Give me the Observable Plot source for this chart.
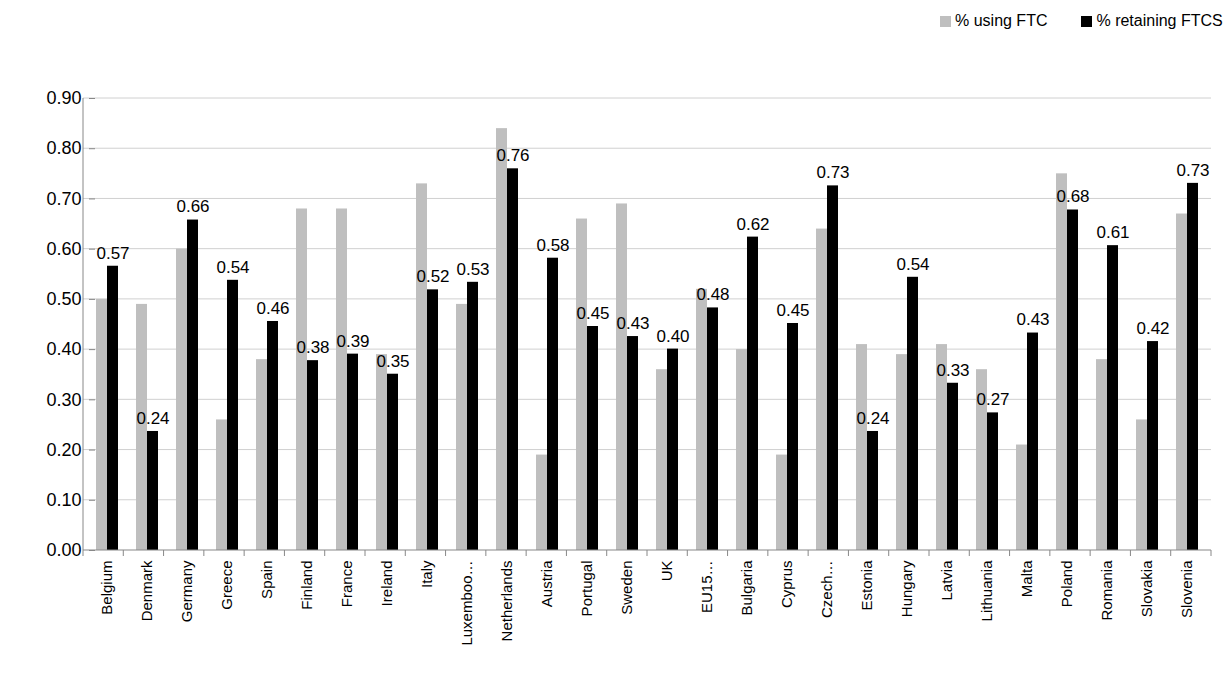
<!DOCTYPE html>
<html><head><meta charset="utf-8">
<script src="https://cdn.jsdelivr.net/npm/d3@7"></script>
<script src="https://cdn.jsdelivr.net/npm/@observablehq/plot@0.6"></script>
<style>
body{margin:0;background:#fff;font-family:"Liberation Sans",Arial,sans-serif;}
#wrap{position:relative;width:1229px;height:686px;}
#legend{position:absolute;top:12px;left:940px;font-size:16px;display:flex;gap:34px;}
#legend span{display:inline-flex;align-items:center;gap:4px;}
#legend i{display:inline-block;width:11px;height:11px;}
</style></head><body>
<div id="wrap">
<div id="legend"><span><i style="background:#bfbfbf"></i>% using FTC</span><span><i style="background:#000"></i>% retaining FTCS</span></div>
<div id="chart"></div>
</div>
<script>
const countries=["Belgium","Denmark","Germany","Greece","Spain","Finland","France","Ireland","Italy","Luxemboo…","Netherlands","Austria","Portugal","Sweden","UK","EU15…","Bulgaria","Cyprus","Czech…","Estonia","Hungary","Latvia","Lithuania","Malta","Poland","Romania","Slovakia","Slovenia"];
const usingFTC=[0.50,0.49,0.60,0.26,0.38,0.68,0.68,0.39,0.73,0.49,0.84,0.19,0.66,0.69,0.36,0.52,0.40,0.19,0.64,0.41,0.39,0.41,0.36,0.21,0.75,0.38,0.26,0.67];
const retainingFTCS=[0.566,0.237,0.658,0.538,0.456,0.378,0.391,0.351,0.519,0.534,0.76,0.582,0.446,0.426,0.401,0.483,0.624,0.452,0.726,0.237,0.544,0.333,0.274,0.433,0.678,0.607,0.416,0.731];
const yTicks=[0,0.1,0.2,0.3,0.4,0.5,0.6,0.7,0.8,0.9];
const series=["% using FTC","% retaining FTCS"];
const colors=["#bfbfbf","#000000"];
const data=[];
countries.forEach((c,i)=>{data.push({c,s:series[0],v:usingFTC[i]});data.push({c,s:series[1],v:retainingFTCS[i]});});
const black=data.filter(d=>d.s===series[1]);
const ML=83,MR=18,MT=98,MB=136,W=1229,H=686;
const chart=Plot.plot({
  width:W,height:H,marginTop:MT,marginBottom:MB,marginLeft:ML,marginRight:MR,
  style:{fontFamily:"Liberation Sans, Arial, sans-serif",fontSize:"16px",color:"#000"},
  fx:{domain:countries,paddingInner:0.42,paddingOuter:0.21,label:null},
  x:{domain:series,padding:0,axis:null},
  y:{domain:[0,0.9],label:null},
  color:{domain:series,range:colors},
  marks:[
    Plot.barY(data,{fx:"c",x:"s",y:"v",fill:"s"}),
    Plot.text(black,{fx:"c",x:"s",y:"v",text:d=>d.v.toFixed(2),dy:-13,fontSize:17}),
    Plot.axisFx({anchor:"bottom",tickRotate:-90,tickSize:0,fontSize:15,tickPadding:10,label:null}),
    Plot.axisY({ticks:yTicks,tickFormat:d3.format(".2f"),tickSize:6,fontSize:18,tickPadding:8,label:null,stroke:"#888"})
  ]
});
document.getElementById("chart").append(chart);
const svg=d3.select(chart);
const ys=chart.scale("y");
const x0=ML,x1=W-MR,yb=H-MB;
const g=svg.insert("g",":first-child");
yTicks.slice(1).forEach(t=>{const y=ys.apply(t);g.append("line").attr("x1",x0).attr("x2",x1).attr("y1",y).attr("y2",y).attr("stroke","#d0d0d0");});
svg.append("line").attr("x1",x0).attr("x2",x0).attr("y1",MT).attr("y2",yb).attr("stroke","#888");
svg.append("line").attr("x1",x0).attr("x2",x1).attr("y1",yb).attr("y2",yb).attr("stroke","#888");
const step=(x1-x0)/countries.length;
for(let i=0;i<=countries.length;i++){const x=x0+i*step;svg.append("line").attr("x1",x).attr("x2",x).attr("y1",yb).attr("y2",yb+6).attr("stroke","#888");}
</script>
</body></html>
